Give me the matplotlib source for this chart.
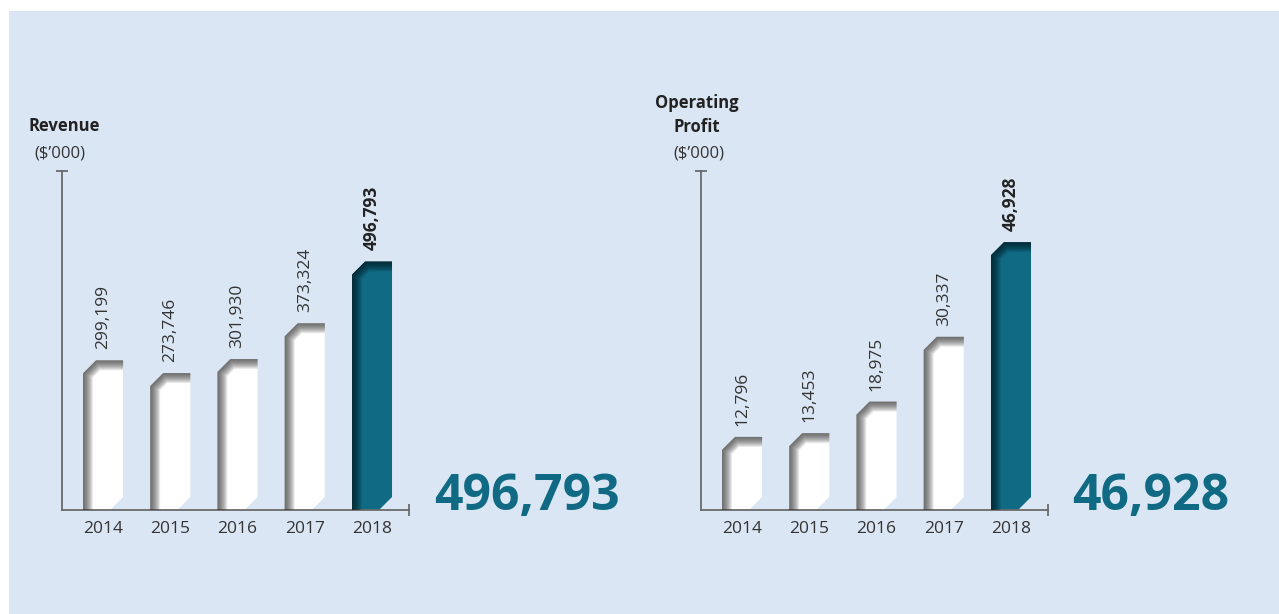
import matplotlib
matplotlib.use("AGG")
import matplotlib.pyplot as plt
from matplotlib.patches import Polygon, Rectangle

years = ["2014", "2015", "2016", "2017", "2018"]
revenue = [299199, 273746, 301930, 373324, 496793]
op_profit = [12796, 13453, 18975, 30337, 46928]

W, H = 1279, 614
BG = "#dbe6f4"
TEAL = "#106a84"
TEXT = "#333333"
FONT = "Open Sans"

plt.rcParams["font.family"] = [FONT, "DejaVu Sans"]

fig = plt.figure(figsize=(W / 100, H / 100), dpi=100)
fig.patch.set_facecolor("white")
fig.add_artist(Rectangle((9 / W, 0), 1, 1 - 11 / H, transform=fig.transFigure,
                         facecolor=BG, edgecolor="none", zorder=-10))


def px_ax(x0, x1, y_top, y_base):
    return fig.add_axes([x0 / W, (H - y_base) / H, (x1 - x0) / W, (y_base - y_top) / H])


def draw_panel(ax, values, ymax):
    ax.set_facecolor("none")
    ax.set_xlim(-0.61, 4.55)
    ax.set_ylim(0, ymax)
    for s in ["top", "right"]:
        ax.spines[s].set_visible(False)
    for s in ["left", "bottom"]:
        ax.spines[s].set_color("#6a6a6a")
        ax.spines[s].set_linewidth(1.3)
    ax.set_yticks([])
    ax.set_xticks(range(len(years)))
    ax.set_xticklabels(years, fontsize=12.5, color=TEXT)
    ax.tick_params(axis="x", length=0, pad=8)
    # end caps on the axes
    ax.plot([-0.61], [ymax], marker="_", markersize=8, color="#6a6a6a", mew=1.3, clip_on=False)
    ax.plot([4.55], [0], marker="|", markersize=8, color="#6a6a6a", mew=1.3, clip_on=False)

    bbox = ax.get_window_extent()
    ux = (4.55 + 0.61) / bbox.width   # data units per pixel, x
    uy = ymax / bbox.height           # data units per pixel, y
    bw = 0.595
    cx, cy = 13 * ux, 13 * uy
    for i, v in enumerate(values):
        last = i == len(values) - 1
        l, r = i - bw / 2, i + bw / 2
        pts = [(l, 0), (l, v - cy), (l + cx, v), (r, v), (r, cy), (r - cx, 0)]
        face = TEAL if last else "white"
        shade = "#041a22" if last else "#3c3c3c"
        poly = Polygon(pts, closed=True, facecolor=face, edgecolor="none", zorder=2)
        ax.add_patch(poly)
        edge_x = [l, l, l + cx, r + 0.05]
        edge_y = [-uy * 5, v - cy, v, v]
        for lw in range(16, 0, -1):
            ln, = ax.plot(edge_x, edge_y, color=shade, lw=lw * 0.9, alpha=0.075,
                          solid_joinstyle="miter", solid_capstyle="butt", zorder=3)
            ln.set_clip_path(poly)
        ax.annotate(f"{v:,}", (i, v), xytext=(0, 8), textcoords="offset points",
                    rotation=90, ha="center", va="bottom", fontsize=12.5,
                    color="#222222" if last else TEXT,
                    fontweight="bold" if last else "normal")


ax1 = px_ax(62, 409, 171, 510)
draw_panel(ax1, revenue, 678000)
ax2 = px_ax(701, 1048, 171, 510)
draw_panel(ax2, op_profit, 59400)

fig.text(28 / W, 1 - 126 / H, "Revenue", fontsize=12, fontweight="bold",
         color="#222222", ha="left", va="center")
fig.text(60 / W, 1 - 153 / H, "($\u2019000)", fontsize=12, color=TEXT, ha="center", va="center")
fig.text(697 / W, 1 - 115 / H, "Operating\nProfit", fontsize=12, fontweight="bold",
         color="#222222", ha="center", va="center", linespacing=1.4)
fig.text(699 / W, 1 - 153 / H, "($\u2019000)", fontsize=12, color=TEXT, ha="center", va="center")

fig.text(434 / W, 1 - 510 / H, f"{revenue[-1]:,}", fontsize=36, fontweight="bold",
         color=TEAL, ha="left", va="baseline")
fig.text(1072 / W, 1 - 510 / H, f"{op_profit[-1]:,}", fontsize=36, fontweight="bold",
         color=TEAL, ha="left", va="baseline")

fig.savefig("out.png", dpi=100, facecolor=fig.get_facecolor())
